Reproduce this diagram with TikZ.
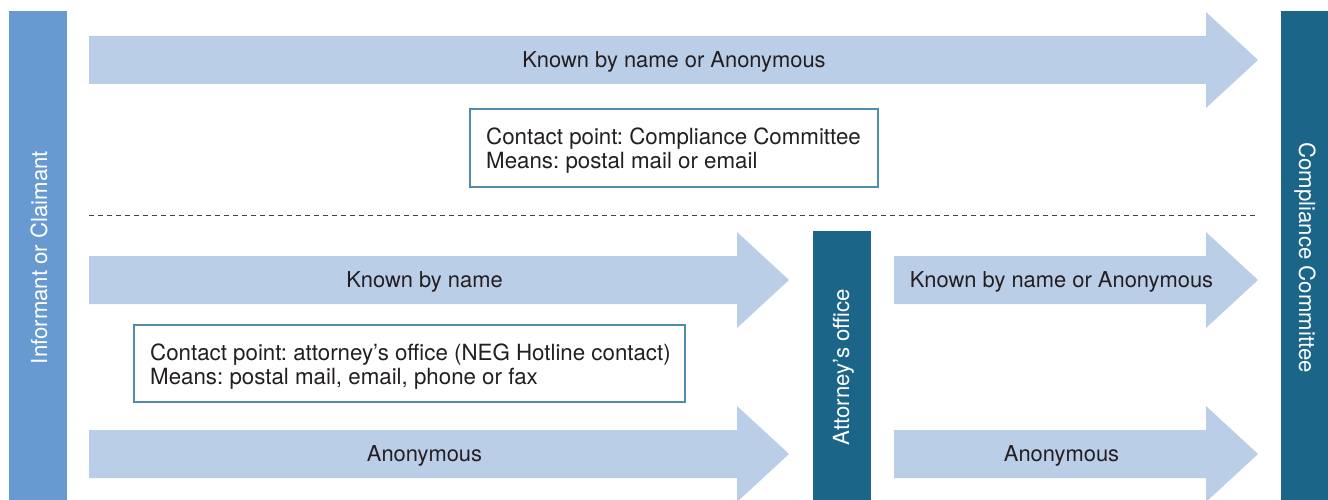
\documentclass[tikz,border=0pt]{standalone}
\usepackage{fontspec}
\setmainfont{TeX Gyre Heros}
\frenchspacing
\definecolor{barblue}{RGB}{102,154,208}
\definecolor{barteal}{RGB}{27,102,136}
\definecolor{arrowfill}{RGB}{186,206,232}
\definecolor{boxline}{RGB}{80,140,172}
\definecolor{txt}{RGB}{35,31,32}
\tikzset{
  bar/.style={fill=#1, draw=none},
  arrowshape/.style={fill=arrowfill, draw=none},
  lbl/.style={text=txt, font=\fontsize{21.9}{26}\selectfont, inner sep=0pt},
  barlbl/.style={text=white, font=\fontsize{22.2}{26}\selectfont, inner sep=0pt},
  infobox/.style={draw=boxline, line width=1.1pt, fill=white, inner sep=0pt},
  infotext/.style={text=txt, font=\fontsize{22.3}{24}\selectfont, align=left,
    inner sep=0pt, anchor=west},
}
\newcommand\flowarrow[4]{% name, x-start, x-tip, y-center
  \path[arrowshape] (#2,#4-24) -- (#3-52,#4-24) -- (#3-52,#4-48) -- (#3,#4)
    -- (#3-52,#4+48) -- (#3-52,#4+24) -- (#2,#4+24) -- cycle;
  \coordinate (#1) at ({(#2+#3)/2},#4);
}
\begin{document}
\begin{tikzpicture}[x=1pt,y=-1pt]
\useasboundingbox (0,0) rectangle (1328,500);
% side bars
\path[bar=barblue] (9,11) rectangle (67,500);
\path[bar=barteal] (1281,11) rectangle (1328,500);
\path[bar=barteal] (813,231) rectangle (871,500);
\node[barlbl, rotate=90] (inf) at (39,257.5) {Informant or Claimant};
\node[barlbl, rotate=-90] (cc) at (1305,257.5) {Compliance Committee};
\node[barlbl, rotate=90] (att) at (843.5,367) {Attorney’s office};
% arrows
\flowarrow{a1}{89}{1258}{60}
\flowarrow{a2}{89}{789}{280}
\flowarrow{a3}{894}{1258}{280}
\flowarrow{a4}{89}{789}{454}
\flowarrow{a5}{894}{1258}{454}
\node[lbl] (t1) at (674,61.5) {Known by name or Anonymous};
\node[lbl] (t2) at (424.5,281.5) {Known by name};
\node[lbl] (t3) at (1061.5,281.5) {Known by name or Anonymous};
\node[lbl] (t4) at (424.5,455.5) {Anonymous};
\node[lbl] (t5) at (1061.5,455.5) {Anonymous};
% dashed separator
\coordinate (dl) at (89,215);
\coordinate (dr) at (1258,215);
\draw[txt!85, line width=0.9pt, dash pattern=on 5pt off 4pt] (dl) -- (dr);
% info boxes
\node[infobox, minimum width=408pt, minimum height=78pt] (b1) at (674,148) {};
\node[infotext] (b1t) at (486,151)
  {Contact point: Compliance Committee\\Means: postal mail or email};
\node[infobox, minimum width=551pt, minimum height=77pt] (b2) at (409.5,363.5) {};
\node[infotext] (b2t) at (150,367)
  {Contact point: attorney’s office (NEG Hotline contact)\\Means: postal mail, email, phone or fax};
\end{tikzpicture}
\end{document}
